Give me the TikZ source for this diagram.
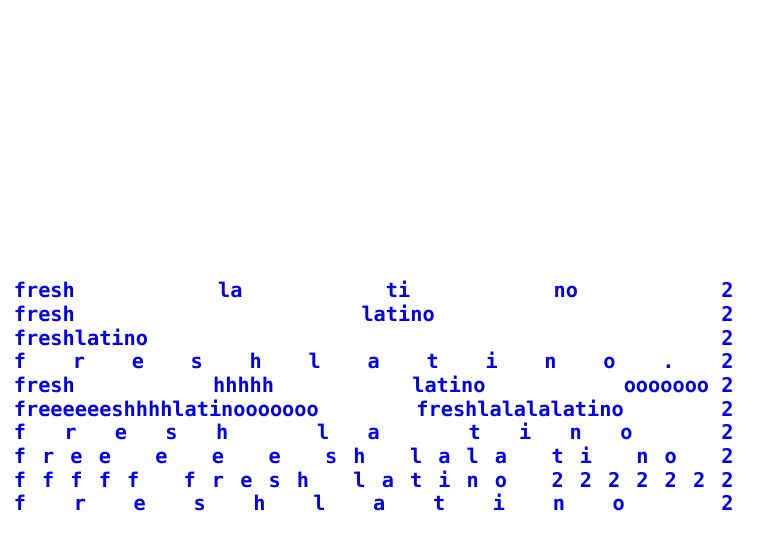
\documentclass[tikz,border=0pt]{standalone}
\usepackage{fontspec}
\usepackage{tikz}
\usetikzlibrary{matrix, positioning}
\usepackage{xcolor}

\newfontfamily\freshfamily{DejaVu Sans Mono}
\newcommand{\rowfont}{\freshfamily\bfseries\fontsize{10.13pt}{12pt}\selectfont}
\newlength{\cellwd}
\newlength{\rowwd}
\AtBeginDocument{\settowidth{\cellwd}{\rowfont 0}\setlength{\rowwd}{59\cellwd}}
\newcommand{\rowbox}[1]{\hbox to \rowwd{#1}}
\definecolor{freshblue}{RGB}{0,0,238}

\begin{document}
\begin{tikzpicture}
\useasboundingbox (0,0) rectangle (378.5pt,-267.5pt);
\matrix (m) [matrix of nodes, anchor=north west, inner sep=0pt,
         row sep={11.85pt,between origins},
         nodes={font=\rowfont, text=freshblue, inner sep=0pt,
                text height=8pt, text depth=2.5pt, anchor=base west}]
         at (6.75pt,-140.65pt)
%
{
|(r1)| \rowbox{fresh\hfill la\hfill ti\hfill no\hfill 2} \\
|(r2)| \rowbox{fresh\hfill latino\hfill 2} \\
|(r3)| \rowbox{freshlatino\hfill 2} \\
|(r4)| \rowbox{f\hfill r\hfill e\hfill s\hfill h\hfill l\hfill a\hfill t\hfill i\hfill n\hfill o\hfill .\hfill 2} \\
|(r5)| \rowbox{fresh\hfill hhhhh\hfill latino\hfill ooooooo 2} \\
|(r6)| \rowbox{freeeeeeshhhhlatinooooooo\hfill freshlalalalatino\hfill 2} \\
|(r7)| \rowbox{f\hfill r\hfill e\hfill s\hfill h\hfill~\hfill l\hfill a\hfill~\hfill t\hfill i\hfill n\hfill o\hfill~\hfill 2} \\
|(r8)| \rowbox{f\hfill r\hfill e\hfill e\hfill~\hfill e\hfill~\hfill e\hfill~\hfill e\hfill~\hfill s\hfill h\hfill~\hfill l\hfill a\hfill l\hfill a\hfill~\hfill t\hfill i\hfill~\hfill n\hfill o\hfill~\hfill 2} \\
|(r9)| \rowbox{f\hfill f\hfill f\hfill f\hfill f\hfill~\hfill f\hfill r\hfill e\hfill s\hfill h\hfill~\hfill l\hfill a\hfill t\hfill i\hfill n\hfill o\hfill~\hfill 2\hfill 2\hfill 2\hfill 2\hfill 2\hfill 2\hfill 2} \\
|(r10)| \rowbox{f\hfill r\hfill e\hfill s\hfill h\hfill l\hfill a\hfill t\hfill i\hfill n\hfill o\hfill~~~~2} \\
};
%
\end{tikzpicture}
\end{document}
